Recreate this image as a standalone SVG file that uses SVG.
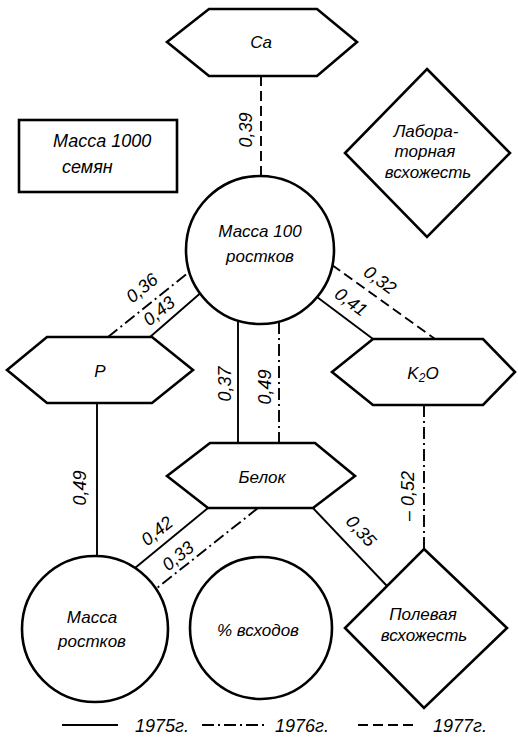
<svg xmlns="http://www.w3.org/2000/svg" width="518" height="738" viewBox="0 0 518 738">
<style>
.s{fill:#fff;stroke:#000;stroke-width:2.6;stroke-linejoin:miter}
.t{font-family:"Liberation Sans","DejaVu Sans",sans-serif;font-style:italic;font-size:17px;fill:#000;text-anchor:middle}
.n{font-family:"Liberation Sans","DejaVu Sans",sans-serif;font-style:italic;font-size:18px;fill:#000;text-anchor:middle;dominant-baseline:central}
.l{font-family:"Liberation Sans","DejaVu Sans",sans-serif;font-style:italic;font-size:18px;fill:#000}
.c{fill:none;stroke:#000;stroke-width:1.9}
.y75{}
.y76{stroke-dasharray:12 4 2 4}
.y77{stroke-dasharray:10 5}
</style>
<rect width="518" height="738" fill="#fff"/>
<g id="connectors">
<line class="c y77" x1="261" y1="76" x2="261" y2="176"/>
<line class="c y75" x1="150" y1="337" x2="200" y2="293.5"/>
<line class="c y76" x1="108" y1="337" x2="189" y2="272"/>
<line class="c y75" x1="317" y1="297" x2="373" y2="339"/>
<line class="c y77" x1="332" y1="265" x2="435" y2="339"/>
<line class="c y75" x1="238" y1="321" x2="238" y2="443"/>
<line class="c y76" x1="279" y1="322" x2="279" y2="443"/>
<line class="c y75" x1="97" y1="403" x2="97" y2="556"/>
<line class="c y75" x1="208" y1="508" x2="135" y2="568"/>
<line class="c y76" x1="258" y1="508" x2="157" y2="588"/>
<line class="c y75" x1="313" y1="508" x2="387" y2="586"/>
<line class="c y76" x1="424" y1="405" x2="424" y2="549"/>
<text class="n" transform="translate(246,130) rotate(-90)">0,39</text>
<text class="n" transform="translate(142,288) rotate(-39)">0,36</text>
<text class="n" transform="translate(159,311) rotate(-39)">0,43</text>
<text class="n" transform="translate(380,280) rotate(36)">0,32</text>
<text class="n" transform="translate(351,302) rotate(36)">0,41</text>
<text class="n" transform="translate(225,384) rotate(-90)">0,37</text>
<text class="n" transform="translate(265,387) rotate(-90)">0,49</text>
<text class="n" transform="translate(80,488) rotate(-90)">0,49</text>
<text class="n" transform="translate(408,496) rotate(-90)">– 0,52</text>
<text class="n" transform="translate(157,531) rotate(-39)">0,42</text>
<text class="n" transform="translate(178,556) rotate(-39)">0,33</text>
<text class="n" transform="translate(361,531) rotate(48)">0,35</text>
</g>
<g id="ca">
<polygon class="s" points="167,42 209,9 317,9 357,42 317,76 209,76"/>
<text class="t" x="261" y="48">Ca</text>
</g>
<g id="massa1000">
<rect class="s" x="19" y="120" width="158" height="72"/>
<text class="l" x="53" y="147" font-size="17">Масса 1000</text>
<text class="l" x="62" y="173" font-size="17">семян</text>
</g>
<g id="lab">
<polygon class="s" points="427,69 510,153 427,237 345,153"/>
<text class="t" x="426" y="137">Лабора-</text>
<text class="t" x="425" y="157">торная</text>
<text class="t" x="428" y="178">всхожесть</text>
</g>
<g id="massa100">
<circle class="s" cx="260" cy="250" r="74"/>
<text class="t" x="260" y="237">Масса 100</text>
<text class="t" x="260" y="262">ростков</text>
</g>
<g id="p">
<polygon class="s" points="7,370 47,337 152,337 193,370 152,403 47,403"/>
<text class="t" x="100" y="377">P</text>
</g>
<g id="k2o">
<polygon class="s" points="332,372 373,339 483,339 515,372 483,405 373,405"/>
<text class="t" x="423" y="379">K<tspan font-size="12" dy="3">2</tspan><tspan dy="-3">O</tspan></text>
</g>
<g id="belok">
<polygon class="s" points="167,476 210,443 315,443 355,476 313,508 208,508"/>
<text class="t" x="262" y="483">Белок</text>
</g>
<g id="massa">
<circle class="s" cx="95" cy="629" r="73"/>
<text class="t" x="92" y="623" font-size="18">Масса</text>
<text class="t" x="92" y="647" font-size="18">ростков</text>
</g>
<g id="vshodov">
<circle class="s" cx="261" cy="628" r="71"/>
<text class="t" x="258" y="636" font-size="19">% всходов</text>
</g>
<g id="polevaya">
<polygon class="s" points="424,549 507,628 424,708 345,628"/>
<text class="t" x="423" y="620">Полевая</text>
<text class="t" x="424" y="641">всхожесть</text>
</g>
<g id="legend">
<line class="c y75" x1="62" y1="725" x2="118" y2="725"/>
<text class="l" x="135" y="732">1975г.</text>
<line class="c y76" x1="202" y1="725" x2="267" y2="725"/>
<text class="l" x="275" y="732">1976г.</text>
<line class="c y77" x1="358" y1="725" x2="415" y2="725"/>
<text class="l" x="433" y="732">1977г.</text>
</g>
</svg>
